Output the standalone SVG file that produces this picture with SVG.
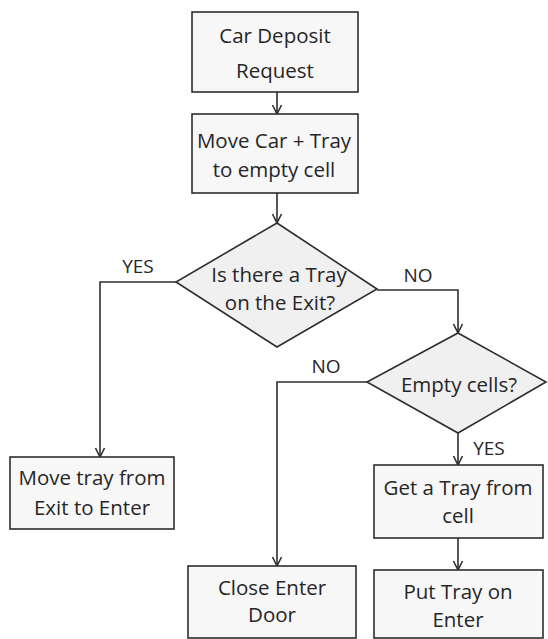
<svg xmlns="http://www.w3.org/2000/svg" width="548" height="639" viewBox="0 0 548 639">
  <style>
    .box { fill: #f7f7f7; stroke: #2e2e2e; stroke-width: 1.6; }
    .dia { fill: #f0f0f0; stroke: #2e2e2e; stroke-width: 1.6; }
    .t { font-family: "Open Sans", "Noto Sans", sans-serif; font-size: 20.5px; fill: #262626; text-anchor: middle; }
    .lbl { font-family: "Open Sans", "Noto Sans", sans-serif; font-size: 19px; fill: #262626; text-anchor: middle; }
    .c { fill: none; stroke: #2e2e2e; stroke-width: 1.6; }
  </style>
  <defs>
    <marker id="arr" markerUnits="userSpaceOnUse" markerWidth="12" markerHeight="12" viewBox="0 0 12 12" refX="11" refY="6" orient="auto">
      <path d="M2,1.5 L11,6 L2,10.5" fill="none" stroke="#2e2e2e" stroke-width="1.6"/>
    </marker>
  </defs>
  <rect width="548" height="639" fill="#ffffff"/>

  <g id="connectors">
    <path class="c" d="M277,92 L277,114" marker-end="url(#arr)"/>
    <path class="c" d="M277,193 L277,223" marker-end="url(#arr)"/>
    <path class="c" d="M176,282 L100,282 L100,457" marker-end="url(#arr)"/>
    <path class="c" d="M377,290 L458,290 L458,333" marker-end="url(#arr)"/>
    <path class="c" d="M367,382 L277,382 L277,566" marker-end="url(#arr)"/>
    <path class="c" d="M458,433 L458,465" marker-end="url(#arr)"/>
    <path class="c" d="M458,538 L458,570" marker-end="url(#arr)"/>
    <text class="lbl" x="138" y="273">YES</text>
    <text class="lbl" x="418" y="282">NO</text>
    <text class="lbl" x="326" y="373">NO</text>
    <text class="lbl" x="489" y="455">YES</text>
  </g>

  <g id="car-deposit-request">
    <rect class="box" x="192" y="12" width="166" height="80"/>
    <text class="t" x="275" y="43">Car Deposit</text>
    <text class="t" x="275" y="78">Request</text>
  </g>

  <g id="move-car-tray">
    <rect class="box" x="192" y="114" width="166" height="79"/>
    <text class="t" x="274" y="148">Move Car + Tray</text>
    <text class="t" x="274" y="177">to empty cell</text>
  </g>

  <g id="tray-on-exit">
    <polygon class="dia" points="277,223 377,289 277,347 176,282"/>
    <text class="t" x="279" y="282">Is there a Tray</text>
    <text class="t" x="280" y="310">on the Exit?</text>
  </g>

  <g id="empty-cells">
    <polygon class="dia" points="458,333 546,382 458,433 367,382"/>
    <text class="t" x="459" y="392">Empty cells?</text>
  </g>

  <g id="move-tray-exit-enter">
    <rect class="box" x="10" y="457" width="164" height="72"/>
    <text class="t" x="92" y="485">Move tray from</text>
    <text class="t" x="92" y="515">Exit to Enter</text>
  </g>

  <g id="get-tray-from-cell">
    <rect class="box" x="374" y="465" width="169" height="73"/>
    <text class="t" x="458" y="495">Get a Tray from</text>
    <text class="t" x="458" y="523">cell</text>
  </g>

  <g id="close-enter-door">
    <rect class="box" x="188" y="566" width="168" height="72"/>
    <text class="t" x="272" y="595">Close Enter</text>
    <text class="t" x="272" y="622">Door</text>
  </g>

  <g id="put-tray-on-enter">
    <rect class="box" x="374" y="570" width="169" height="68"/>
    <text class="t" x="458" y="599">Put Tray on</text>
    <text class="t" x="458" y="627">Enter</text>
  </g>
</svg>
